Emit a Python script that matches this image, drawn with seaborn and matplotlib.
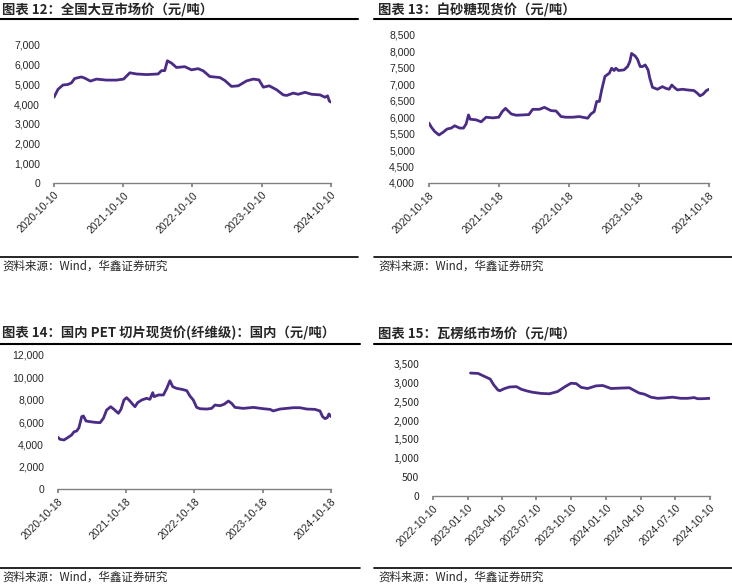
import matplotlib
matplotlib.use("Agg")
import matplotlib.pyplot as plt
import matplotlib.dates as mdates
from matplotlib.lines import Line2D
from matplotlib.ticker import FuncFormatter
import pandas as pd
import seaborn as sns

# ---- data ----
soy_dates = ["2020-10-10", "2020-10-31", "2020-11-26", "2020-12-23", "2021-01-10", "2021-01-27",
             "2021-03-03", "2021-03-21", "2021-04-20", "2021-05-22", "2021-07-13", "2021-09-04",
             "2021-10-12", "2021-11-14", "2021-12-19", "2022-02-10", "2022-04-12", "2022-04-30",
             "2022-05-17", "2022-05-31", "2022-06-22", "2022-07-18", "2022-08-31", "2022-10-05",
             "2022-11-09", "2022-12-06", "2023-01-10", "2023-03-04", "2023-03-30", "2023-05-04",
             "2023-06-09", "2023-07-23", "2023-08-27", "2023-09-26", "2023-10-19", "2023-11-19",
             "2023-12-28", "2024-02-01", "2024-02-19", "2024-03-25", "2024-04-20", "2024-05-26",
             "2024-06-30", "2024-08-13", "2024-09-08", "2024-09-22", "2024-10-01", "2024-10-10"]
soy_price = [4350, 4750, 4970, 5000, 5080, 5300, 5380, 5320, 5170, 5270, 5220, 5220,
             5270, 5590, 5530, 5500, 5530, 5700, 5700, 6200, 6080, 5860, 5900, 5740,
             5800, 5690, 5400, 5350, 5200, 4900, 4930, 5180, 5270, 5230, 4860, 4930,
             4730, 4470, 4440, 4560, 4500, 4600, 4500, 4470, 4350, 4420, 4160, 4100]

sugar_dates = ["2020-10-18", "2020-10-30", "2020-11-16", "2020-12-09", "2020-12-30", "2021-01-20",
               "2021-02-11", "2021-03-01", "2021-03-27", "2021-04-16", "2021-04-30", "2021-05-12",
               "2021-05-21", "2021-06-21", "2021-07-17", "2021-08-12", "2021-09-16", "2021-10-17",
               "2021-11-04", "2021-11-21", "2021-12-21", "2022-01-16", "2022-02-19", "2022-03-23",
               "2022-04-12", "2022-05-17", "2022-06-12", "2022-07-17", "2022-08-12", "2022-09-07",
               "2022-10-03", "2022-11-07", "2022-12-11", "2023-01-06", "2023-01-24", "2023-02-10",
               "2023-02-27", "2023-03-12", "2023-03-26", "2023-04-07", "2023-04-24", "2023-05-17",
               "2023-05-29", "2023-06-11", "2023-06-20", "2023-07-04", "2023-08-02", "2023-08-20",
               "2023-09-01", "2023-09-10", "2023-09-29", "2023-10-11", "2023-10-25", "2023-11-06",
               "2023-11-20", "2023-12-05", "2023-12-14", "2023-12-28", "2024-01-23", "2024-02-18",
               "2024-03-06", "2024-03-24", "2024-04-07", "2024-04-19", "2024-05-06", "2024-06-01",
               "2024-06-27", "2024-08-01", "2024-08-18", "2024-09-01", "2024-09-17", "2024-10-04",
               "2024-10-18"]
sugar_price = [5820, 5700, 5570, 5460, 5540, 5640, 5670, 5740, 5670, 5670, 5800, 6070,
               5940, 5920, 5860, 6000, 5980, 6000, 6170, 6270, 6100, 6060, 6070, 6080,
               6240, 6240, 6300, 6200, 6190, 6020, 6000, 6000, 6020, 5990, 5970, 6100,
               6170, 6480, 6480, 6830, 7240, 7340, 7490, 7420, 7490, 7420, 7440, 7540,
               7690, 7940, 7860, 7760, 7540, 7540, 7590, 7440, 7190, 6910, 6850, 6930,
               6880, 6850, 6980, 6910, 6830, 6850, 6830, 6810, 6730, 6650, 6700, 6810,
               6850]

pet_dates = ["2020-10-18", "2020-10-29", "2020-11-19", "2020-12-09", "2020-12-30", "2021-01-12",
             "2021-01-26", "2021-02-07", "2021-02-22", "2021-03-03", "2021-03-17", "2021-04-07",
             "2021-05-04", "2021-05-31", "2021-06-18", "2021-07-05", "2021-07-27", "2021-08-14",
             "2021-09-06", "2021-09-20", "2021-10-06", "2021-10-20", "2021-11-07", "2021-11-22",
             "2021-12-04", "2021-12-18", "2022-01-09", "2022-02-04", "2022-02-22", "2022-03-09",
             "2022-03-16", "2022-04-08", "2022-05-05", "2022-05-23", "2022-06-09", "2022-06-24",
             "2022-07-15", "2022-08-11", "2022-09-07", "2022-09-24", "2022-10-12", "2022-10-30",
             "2022-11-17", "2022-12-23", "2023-01-18", "2023-02-05", "2023-03-04", "2023-03-25",
             "2023-04-18", "2023-05-05", "2023-05-23", "2023-07-07", "2023-08-29", "2023-10-22",
             "2023-11-27", "2023-12-14", "2024-01-19", "2024-03-30", "2024-05-05", "2024-06-10",
             "2024-07-24", "2024-08-20", "2024-09-03", "2024-09-16", "2024-09-28", "2024-10-07",
             "2024-10-18"]
pet_price = [4630, 4450, 4390, 4600, 4840, 5130, 5190, 5490, 6480, 6540, 6090, 6030,
             5970, 5940, 6330, 7070, 7370, 7130, 6780, 7130, 7970, 8180, 7880, 7580,
             7370, 7730, 7970, 8120, 8030, 8630, 8270, 8420, 8420, 9010, 9700, 9160,
             9010, 8930, 8810, 8330, 7970, 7310, 7190, 7160, 7220, 7520, 7460, 7580,
             7880, 7670, 7310, 7220, 7310, 7190, 7130, 6990, 7160, 7280, 7280, 7160,
             7130, 6990, 6480, 6300, 6390, 6720, 6480]

paper_dates = ["2023-01-17", "2023-02-06", "2023-02-23", "2023-03-10", "2023-03-19", "2023-03-30",
               "2023-04-04", "2023-04-17", "2023-04-30", "2023-05-18", "2023-05-31", "2023-06-13",
               "2023-06-30", "2023-07-22", "2023-08-13", "2023-09-04", "2023-09-22", "2023-10-09",
               "2023-10-23", "2023-11-05", "2023-11-22", "2023-12-14", "2024-01-01", "2024-01-23",
               "2024-02-14", "2024-03-11", "2024-03-24", "2024-04-06", "2024-04-20", "2024-05-07",
               "2024-05-25", "2024-06-11", "2024-07-03", "2024-07-25", "2024-08-12", "2024-08-29",
               "2024-09-07", "2024-09-20", "2024-10-10"]
paper_price = [3260, 3250, 3170, 3100, 2950, 2815, 2790, 2850, 2890, 2900, 2830, 2790,
               2750, 2720, 2710, 2770, 2890, 2990, 2980, 2880, 2850, 2920, 2930, 2850,
               2860, 2870, 2800, 2730, 2700, 2620, 2590, 2600, 2620, 2590, 2590, 2610,
               2580, 2580, 2590]

titles = ["图表 12：全国大豆市场价（元/吨）",
          "图表 13：白砂糖现货价（元/吨）",
          "图表 14：国内 PET 切片现货价(纤维级)：国内（元/吨）",
          "图表 15：瓦楞纸市场价（元/吨）"]
source = "资料来源：Wind，华鑫证券研究"

LINE = "#4A2C86"
W, H = 732, 585

sns.set_theme(style="white")
plt.rcParams["font.family"] = ["Liberation Sans", "Noto Sans CJK SC", "DejaVu Sans"]

fig = plt.figure(figsize=(W / 100, H / 100), dpi=100)


def px_axes(left, top, right, bottom):
    return fig.add_axes([left / W, 1 - bottom / H, (right - left) / W, (bottom - top) / H])


def hline(x0, x1, y, lw, color="black"):
    fig.add_artist(Line2D([x0 / W, x1 / W], [1 - y / H, 1 - y / H], lw=lw, color=color,
                          transform=fig.transFigure))


def draw(ax, dates, values, xlim, xticks, ylim, ystep):
    sns.lineplot(x=pd.to_datetime(dates), y=values, ax=ax, color=LINE, linewidth=2)
    ax.set_xlim(pd.to_datetime(xlim[0]), pd.to_datetime(xlim[1]))
    ax.set_ylim(*ylim)
    ax.set_xticks(pd.to_datetime(xticks))
    ax.xaxis.set_major_formatter(mdates.DateFormatter("%Y-%m-%d"))
    ax.set_yticks(range(ylim[0], ylim[1] + 1, ystep))
    ax.yaxis.set_major_formatter(FuncFormatter(lambda v, _: f"{int(v):,}"))
    for s in ["top", "right", "left"]:
        ax.spines[s].set_visible(False)
    ax.spines["bottom"].set_color("#808080")
    ax.spines["bottom"].set_linewidth(1)
    ax.tick_params(axis="x", bottom=True, length=3, color="#808080", labelsize=7.5, pad=2)
    ax.tick_params(axis="y", left=False, labelsize=7.5, pad=4)
    for lab in ax.get_xticklabels():
        lab.set_rotation(45)
        lab.set_ha("right")
        lab.set_rotation_mode("anchor")
    ax.set_xlabel("")
    ax.set_ylabel("")
    ax.patch.set_alpha(0)


ax1 = px_axes(54, 45, 331, 183)
draw(ax1, soy_dates, soy_price, ("2020-10-10", "2024-10-10"),
     ["2020-10-10", "2021-10-10", "2022-10-10", "2023-10-10", "2024-10-10"], (0, 7000), 1000)

ax2 = px_axes(429, 35, 709, 183)
draw(ax2, sugar_dates, sugar_price, ("2020-10-18", "2024-10-18"),
     ["2020-10-18", "2021-10-18", "2022-10-18", "2023-10-18", "2024-10-18"], (4000, 8500), 500)

ax3 = px_axes(58, 355, 331, 489)
draw(ax3, pet_dates, pet_price, ("2020-10-18", "2024-10-18"),
     ["2020-10-18", "2021-10-18", "2022-10-18", "2023-10-18", "2024-10-18"], (0, 12000), 2000)

ax4 = px_axes(433, 364, 710, 496)
draw(ax4, paper_dates, paper_price, ("2022-10-10", "2024-10-10"),
     ["2022-10-10", "2023-01-10", "2023-04-10", "2023-07-10", "2023-10-10",
      "2024-01-10", "2024-04-10", "2024-07-10", "2024-10-10"], (0, 3500), 500)
for lab in ax4.get_yticklabels():
    lab.set_family(["Noto Sans CJK SC", "DejaVu Sans"])

# titles, rules and source notes
title_pos = [(2, 10), (378, 10), (2, 333), (378, 334)]
for (x, y), t in zip(title_pos, titles):
    fig.text(x / W, 1 - y / H, t, fontsize=9.6, fontweight="bold", va="center", ha="left",
             family=["Noto Sans CJK SC", "DejaVu Sans"])

hline(0, 358, 19, 1.5)
hline(374, 732, 19, 1.5)
hline(0, 360, 344, 1.5)
hline(374, 732, 344, 1.5)
hline(0, 358, 257, 1.2)
hline(374, 732, 257, 1.2)
hline(0, 360, 568, 1.2)
hline(374, 732, 568, 1.2)

src_pos = [(2, 266), (378, 266), (2, 577), (378, 577)]
for x, y in src_pos:
    fig.text(x / W, 1 - y / H, source, fontsize=8.3, va="center", ha="left",
             family=["Noto Sans CJK SC", "DejaVu Sans"])

fig.savefig("out.png", dpi=100)
